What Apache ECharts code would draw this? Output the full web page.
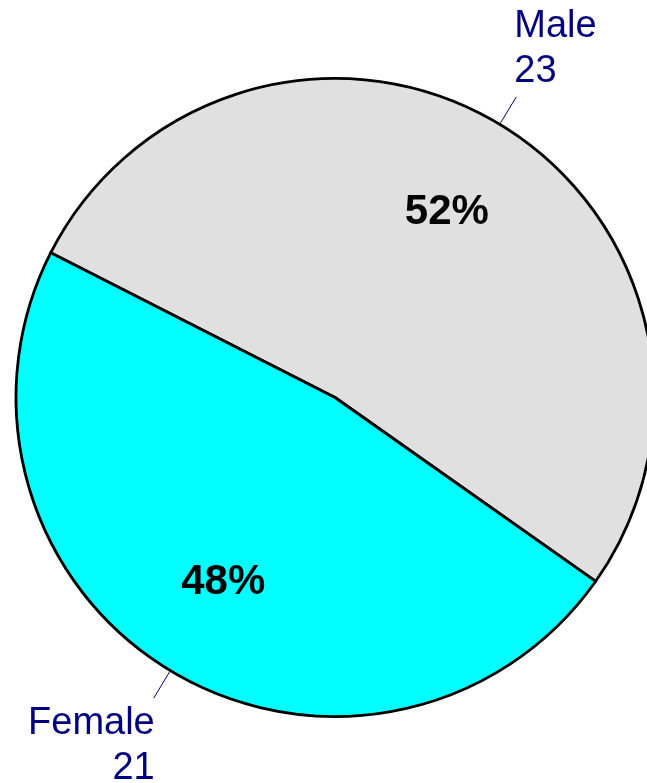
<!DOCTYPE html>
<html>
<head>
<meta charset="utf-8">
<script src="https://cdn.jsdelivr.net/npm/echarts@6/dist/echarts.min.js"></script>
<style>
html,body{margin:0;padding:0;background:#fff;}
#chart{width:647px;height:783px;}
</style>
</head>
<body>
<div id="chart"></div>
<script>
const categories = ['Male', 'Female'];
const counts = [23, 21];
const colors = ['#e0e0e0', '#00ffff'];

const FONT = 'Arial, "Liberation Sans", sans-serif';
const data = categories.map((c, i) => ({ name: c, value: counts[i], itemStyle: { color: colors[i] } }));
const center = [335, 397.5];
const R = 319;
const startAngle = 153;

const chart = echarts.init(document.getElementById('chart'), null, { renderer: 'canvas' });
chart.setOption({
  backgroundColor: '#ffffff',
  animation: false,
  series: [
    {
      type: 'pie',
      center: center,
      radius: [0, R],
      startAngle: startAngle,
      clockwise: true,
      percentPrecision: 0,
      avoidLabelOverlap: false,
      silent: true,
      data: data,
      itemStyle: { borderColor: '#000000', borderWidth: 2.8 },
      label: {
        show: true,
        position: 'outside',
        formatter: '{b}\n{c}',
        fontFamily: FONT,
        fontSize: 38,
        lineHeight: 45,
        color: '#000080',
        distanceToLabelLine: 0
      },
      labelLine: {
        show: true,
        length: 32,
        length2: 0,
        smooth: false,
        lineStyle: { color: '#000080', width: 1 }
      },
      labelLayout: function (p) {
        const pts = p.labelLinePoints;
        if (!pts) return {};
        const p0 = pts[0], p1 = pts[1];
        const right = p1[0] >= p0[0];
        const up = p1[1] <= p0[1];
        return {
          x: p1[0] + (right ? -2 : 1),
          y: p1[1] + (up ? -3 : 3),
          align: right ? 'left' : 'right',
          verticalAlign: up ? 'bottom' : 'top',
          labelLinePoints: [p0, p1, p1]
        };
      }
    },
    {
      type: 'pie',
      center: center,
      radius: [108, R],
      startAngle: startAngle,
      clockwise: true,
      percentPrecision: 0,
      silent: true,
      data: categories.map((c, i) => ({ name: c, value: counts[i] })),
      itemStyle: { color: 'rgba(0,0,0,0)', borderWidth: 0 },
      label: {
        show: true,
        position: 'inside',
        formatter: '{d}%',
        fontFamily: FONT,
        fontWeight: 'bold',
        fontSize: 42,
        color: '#000000'
      },
      labelLine: { show: false }
    }
  ]
});
</script>
</body>
</html>
